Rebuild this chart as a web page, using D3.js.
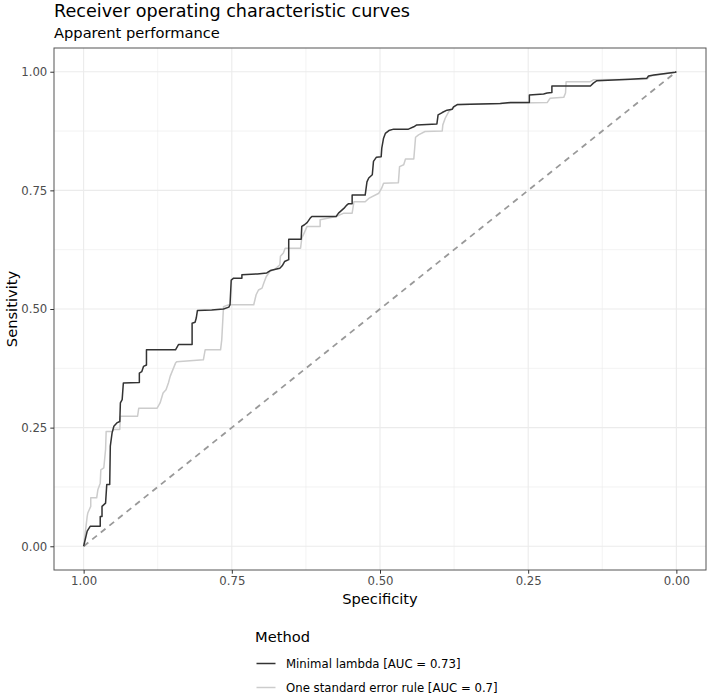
<!DOCTYPE html>
<html>
<head>
<meta charset="utf-8">
<script src="https://cdn.jsdelivr.net/npm/d3@7"></script>
<style>
  body { margin: 0; background: #fff; }
  text { font-family: "DejaVu Sans", sans-serif; }
</style>
</head>
<body>
<svg id="chart"></svg>
<script>
// Step points (specificity, sensitivity)
const minLambdaSpec = [1.000, 0.994, 0.989, 0.972, 0.972, 0.969, 0.969, 0.963, 0.961, 0.956, 0.955, 0.952, 0.949, 0.944, 0.939, 0.938, 0.935, 0.933, 0.906, 0.906, 0.902, 0.899, 0.894, 0.894, 0.845, 0.840, 0.817, 0.817, 0.812, 0.810, 0.808, 0.784, 0.764, 0.755, 0.753, 0.751, 0.747, 0.733, 0.733, 0.707, 0.691, 0.685, 0.669, 0.665, 0.661, 0.654, 0.654, 0.633, 0.632, 0.628, 0.623, 0.618, 0.615, 0.574, 0.570, 0.561, 0.556, 0.553, 0.547, 0.547, 0.525, 0.522, 0.519, 0.513, 0.511, 0.506, 0.498, 0.497, 0.494, 0.491, 0.485, 0.477, 0.452, 0.443, 0.438, 0.404, 0.402, 0.395, 0.387, 0.378, 0.376, 0.369, 0.364, 0.297, 0.280, 0.248, 0.248, 0.224, 0.218, 0.210, 0.210, 0.145, 0.140, 0.134, 0.078, 0.050, 0.047, 0.038, 0.002, 0.000];
const minLambdaSens = [0.000, 0.032, 0.042, 0.042, 0.063, 0.063, 0.084, 0.091, 0.130, 0.130, 0.211, 0.239, 0.253, 0.260, 0.263, 0.302, 0.309, 0.344, 0.345, 0.365, 0.368, 0.379, 0.382, 0.414, 0.414, 0.425, 0.425, 0.470, 0.472, 0.481, 0.497, 0.498, 0.500, 0.504, 0.509, 0.561, 0.565, 0.565, 0.572, 0.574, 0.576, 0.581, 0.586, 0.591, 0.600, 0.604, 0.647, 0.647, 0.674, 0.677, 0.682, 0.691, 0.695, 0.695, 0.702, 0.712, 0.719, 0.722, 0.722, 0.740, 0.740, 0.768, 0.776, 0.783, 0.811, 0.820, 0.821, 0.839, 0.860, 0.870, 0.876, 0.879, 0.879, 0.884, 0.888, 0.890, 0.909, 0.914, 0.919, 0.921, 0.926, 0.931, 0.931, 0.933, 0.935, 0.935, 0.951, 0.953, 0.955, 0.956, 0.970, 0.970, 0.976, 0.981, 0.984, 0.986, 0.991, 0.993, 0.999, 1.000];

const oneSeSpec = [1.000, 0.994, 0.993, 0.988, 0.988, 0.978, 0.976, 0.972, 0.971, 0.966, 0.963, 0.962, 0.952, 0.949, 0.939, 0.938, 0.909, 0.907, 0.876, 0.871, 0.866, 0.861, 0.857, 0.854, 0.845, 0.843, 0.798, 0.795, 0.769, 0.767, 0.764, 0.755, 0.713, 0.709, 0.705, 0.699, 0.696, 0.692, 0.686, 0.677, 0.669, 0.668, 0.663, 0.660, 0.634, 0.632, 0.628, 0.623, 0.601, 0.601, 0.574, 0.561, 0.547, 0.544, 0.525, 0.519, 0.502, 0.497, 0.494, 0.469, 0.467, 0.460, 0.457, 0.443, 0.440, 0.435, 0.424, 0.395, 0.394, 0.390, 0.384, 0.378, 0.370, 0.364, 0.297, 0.218, 0.213, 0.190, 0.187, 0.186, 0.145, 0.140, 0.050, 0.044, 0.002, 0.000];
const oneSeSens = [0.000, 0.063, 0.070, 0.084, 0.102, 0.102, 0.119, 0.133, 0.161, 0.165, 0.204, 0.242, 0.242, 0.246, 0.246, 0.274, 0.274, 0.291, 0.291, 0.302, 0.323, 0.330, 0.344, 0.358, 0.386, 0.389, 0.393, 0.414, 0.414, 0.435, 0.505, 0.509, 0.509, 0.530, 0.540, 0.544, 0.555, 0.568, 0.579, 0.584, 0.593, 0.611, 0.618, 0.628, 0.628, 0.649, 0.660, 0.674, 0.674, 0.688, 0.695, 0.702, 0.702, 0.726, 0.726, 0.733, 0.744, 0.755, 0.765, 0.766, 0.800, 0.804, 0.816, 0.816, 0.862, 0.867, 0.874, 0.875, 0.888, 0.902, 0.916, 0.923, 0.930, 0.931, 0.933, 0.935, 0.944, 0.946, 0.955, 0.979, 0.979, 0.983, 0.984, 0.991, 0.999, 1.000];

const methodNames = ["Minimal lambda [AUC = 0.73]", "One standard error rule [AUC = 0.7]"];
const methodColors = ["#333333", "#cccccc"];
const tickValues = [0, 0.25, 0.5, 0.75, 1];
const minorValues = [0.125, 0.375, 0.625, 0.875];

const W = 708, H = 695;
const margin = { top: 48, right: 2, bottom: 125, left: 54 };
const width = W - margin.left - margin.right;
const height = H - margin.top - margin.bottom;

const svg = d3.select("#chart").attr("width", W).attr("height", H);

// Titles
svg.append("text").attr("x", margin.left).attr("y", 17)
  .attr("font-size", 17.6).attr("fill", "#000")
  .text("Receiver operating characteristic curves");
svg.append("text").attr("x", margin.left).attr("y", 38)
  .attr("font-size", 14.67).attr("fill", "#000")
  .text("Apparent performance");

const g = svg.append("g").attr("transform", `translate(${margin.left},${margin.top})`);

// ggplot style 5% expansion, specificity reversed
const pad = 0.05;
const xScale = d3.scaleLinear().domain([1 + pad, -pad]).range([0, width]);
const yScale = d3.scaleLinear().domain([-pad, 1 + pad]).range([height, 0]);

// Grid
g.selectAll(".minor-x").data(minorValues).enter().append("line")
  .attr("x1", d => xScale(d)).attr("x2", d => xScale(d))
  .attr("y1", 0).attr("y2", height)
  .attr("stroke", "#ebebeb").attr("stroke-width", 0.6);
g.selectAll(".minor-y").data(minorValues).enter().append("line")
  .attr("y1", d => yScale(d)).attr("y2", d => yScale(d))
  .attr("x1", 0).attr("x2", width)
  .attr("stroke", "#ebebeb").attr("stroke-width", 0.6);
g.selectAll(".major-x").data(tickValues).enter().append("line")
  .attr("x1", d => xScale(d)).attr("x2", d => xScale(d))
  .attr("y1", 0).attr("y2", height)
  .attr("stroke", "#ebebeb").attr("stroke-width", 1.1);
g.selectAll(".major-y").data(tickValues).enter().append("line")
  .attr("y1", d => yScale(d)).attr("y2", d => yScale(d))
  .attr("x1", 0).attr("x2", width)
  .attr("stroke", "#ebebeb").attr("stroke-width", 1.1);

// Chance line
g.append("line")
  .attr("x1", xScale(1)).attr("y1", yScale(0))
  .attr("x2", xScale(0)).attr("y2", yScale(1))
  .attr("stroke", "#999999").attr("stroke-width", 1.8)
  .attr("stroke-dasharray", "6,5");

// Curves
const series = [
  minLambdaSpec.map((s, i) => ({ spec: s, sens: minLambdaSens[i] })),
  oneSeSpec.map((s, i) => ({ spec: s, sens: oneSeSens[i] }))
];
const line = d3.line().x(d => xScale(d.spec)).y(d => yScale(d.sens));

// draw light one first so dark sits on top where they overlap
[1, 0].forEach(i => {
  g.append("path")
    .datum(series[i])
    .attr("d", line)
    .attr("fill", "none")
    .attr("stroke", methodColors[i])
    .attr("stroke-width", 1.5)
    .attr("stroke-linejoin", "round");
});

// Panel border
g.append("rect").attr("width", width).attr("height", height)
  .attr("fill", "none").attr("stroke", "#555").attr("stroke-width", 1);

// Axes
const fmt = d3.format(".2f");
const xAxis = g.append("g").attr("transform", `translate(0,${height})`)
  .call(d3.axisBottom(xScale).tickValues(tickValues).tickFormat(fmt).tickSize(3.7).tickPadding(3));
const yAxis = g.append("g")
  .call(d3.axisLeft(yScale).tickValues(tickValues).tickFormat(fmt).tickSize(3.7).tickPadding(3));
[xAxis, yAxis].forEach(a => {
  a.select(".domain").remove();
  a.selectAll(".tick line").attr("stroke", "#333");
  a.selectAll(".tick text").attr("fill", "#4d4d4d")
    .attr("font-size", 11.73).attr("font-family", "DejaVu Sans, sans-serif");
});

// Axis titles
svg.append("text").attr("x", margin.left + width / 2).attr("y", 604)
  .attr("text-anchor", "middle").attr("font-size", 14.67).text("Specificity");
svg.append("text")
  .attr("transform", `translate(17,${margin.top + height / 2}) rotate(-90)`)
  .attr("text-anchor", "middle").attr("font-size", 14.67).text("Sensitivity");

// Legend
const legend = svg.append("g").attr("transform", "translate(255,0)");
legend.append("text").attr("x", 0).attr("y", 642)
  .attr("font-size", 14.67).text("Method");
methodNames.forEach((name, i) => {
  const y = 663.5 + i * 24;
  legend.append("line").attr("x1", 1.5).attr("x2", 20.5).attr("y1", y).attr("y2", y)
    .attr("stroke", methodColors[i]).attr("stroke-width", 1.5);
  legend.append("text").attr("x", 31).attr("y", y)
    .attr("dominant-baseline", "central")
    .attr("font-size", 11.73).attr("fill", "#000").text(name);
});
</script>
</body>
</html>
